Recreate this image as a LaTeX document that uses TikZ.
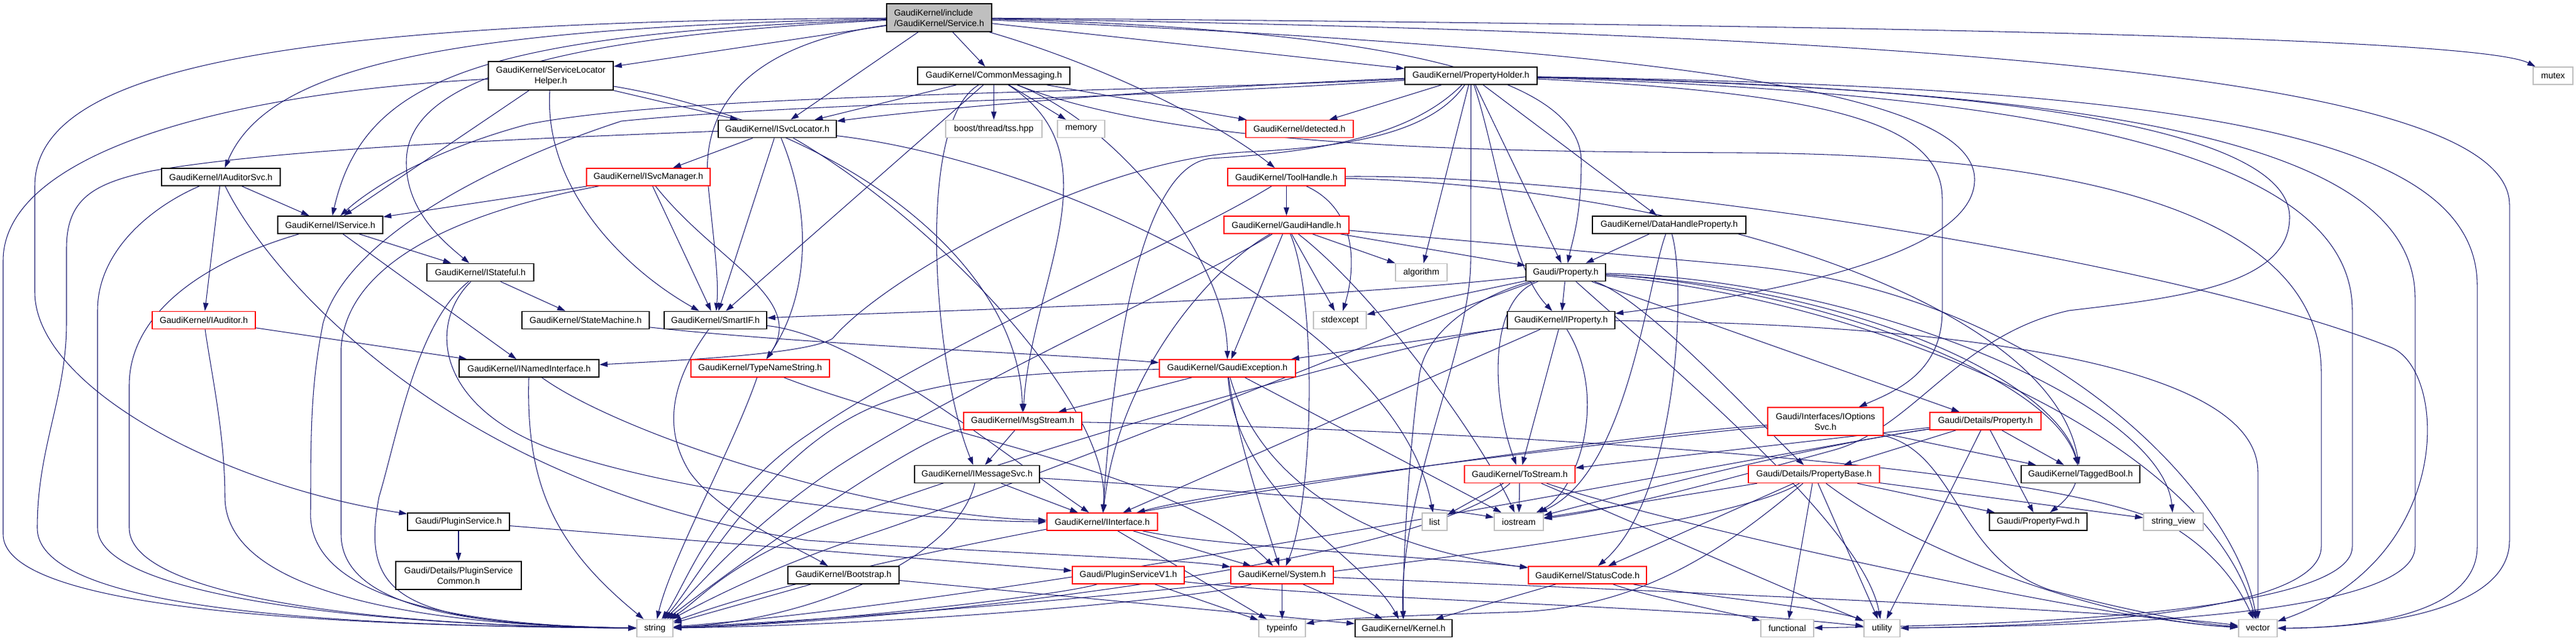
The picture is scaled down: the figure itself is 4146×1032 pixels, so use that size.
\documentclass[tikz,border=0pt]{standalone}
\usepackage{fontspec}
\newfontfamily\nf{Liberation Sans}
\usetikzlibrary{arrows.meta}
\definecolor{edgec}{HTML}{191970}
\definecolor{rootfill}{HTML}{BFBFBF}
\definecolor{grayb}{HTML}{BFBFBF}
\definecolor{redb}{HTML}{FF0000}
\pgfdeclarelayer{bg}
\pgfsetlayers{bg,main}
\begin{document}
\begin{tikzpicture}[x=1pt,y=-1pt,
  nbox/.style={draw, fill=white, line width=1.6pt, inner sep=0pt, minimum height=28pt, font=\nf\fontsize{14.1}{17}\selectfont, align=center, text=black},
  bbox/.style={nbox, draw=black},
  rbox/.style={nbox, draw=redb},
  gbox/.style={nbox, draw=grayb},
  edg/.style={draw=edgec, line width=1.05pt, -{Triangle[length=13pt,width=8.5pt]}}]
\useasboundingbox (0,0) rectangle (4146,1032);
% ---------------- nodes ----------------
\node[bbox, fill=rootfill, align=left, minimum width=169pt, minimum height=45pt] (root) at (1511.5,28.5) {GaudiKernel/include\\/GaudiKernel/Service.h};
\node[bbox, minimum width=201pt, minimum height=46pt] (slh) at (886.5,122) {GaudiKernel/ServiceLocator\\Helper.h};
\node[bbox, minimum width=245pt] (cm) at (1599.5,122) {GaudiKernel/CommonMessaging.h};
\node[bbox, minimum width=213pt] (ph) at (2367.5,122) {GaudiKernel/PropertyHolder.h};
\node[gbox, minimum width=64pt] (mutex) at (4109,122) {mutex};
\node[bbox, minimum width=190pt] (isl) at (1251,207.5) {GaudiKernel/ISvcLocator.h};
\node[gbox, minimum width=155pt] (boost) at (1599.5,207.5) {boost/thread/tss.hpp};
\node[gbox, minimum width=76pt] (memory) at (1740,207.5) {memory};
\node[rbox, minimum width=173pt] (detected) at (2091.5,207.5) {GaudiKernel/detected.h};
\node[bbox, minimum width=191pt] (ias) at (355.5,285) {GaudiKernel/IAuditorSvc.h};
\node[rbox, minimum width=199pt] (ism) at (1043.5,285) {GaudiKernel/ISvcManager.h};
\node[rbox, minimum width=189pt] (th) at (2070.5,285) {GaudiKernel/ToolHandle.h};
\node[bbox, minimum width=169pt] (isv) at (531.5,362) {GaudiKernel/IService.h};
\node[rbox, minimum width=201pt] (gh) at (2070.5,362) {GaudiKernel/GaudiHandle.h};
\node[bbox, minimum width=247pt] (dhp) at (2686.5,362) {GaudiKernel/DataHandleProperty.h};
\node[bbox, minimum width=172pt] (ist) at (773,438.5) {GaudiKernel/IStateful.h};
\node[gbox, minimum width=83pt] (alg) at (2287.5,438.5) {algorithm};
\node[bbox, minimum width=128pt] (gp) at (2520,438.5) {Gaudi/Property.h};
\node[rbox, minimum width=166pt] (iaud) at (328,515.5) {GaudiKernel/IAuditor.h};
\node[bbox, minimum width=205pt] (sm) at (942.5,515.5) {GaudiKernel/StateMachine.h};
\node[bbox, minimum width=165pt] (sif) at (1151.5,515.5) {GaudiKernel/SmartIF.h};
\node[gbox, minimum width=85pt] (stdex) at (2156.5,515.5) {stdexcept};
\node[bbox, minimum width=173pt] (ip) at (2512.5,515.5) {GaudiKernel/IProperty.h};
\node[bbox, minimum width=225pt] (ini) at (851.5,593) {GaudiKernel/INamedInterface.h};
\node[rbox, minimum width=223pt] (tns) at (1223.5,593) {GaudiKernel/TypeNameString.h};
\node[rbox, minimum width=219pt] (ge) at (1975.5,593) {GaudiKernel/GaudiException.h};
\node[rbox, minimum width=186pt, minimum height=45pt] (ios) at (2938,678.5) {Gaudi/Interfaces/IOptions\\Svc.h};
\node[rbox, minimum width=179pt] (dp) at (3195.5,678) {Gaudi/Details/Property.h};
\node[rbox, minimum width=190pt] (ms) at (1646,678) {GaudiKernel/MsgStream.h};
\node[bbox, minimum width=201pt] (imsg) at (1572.5,763.5) {GaudiKernel/IMessageSvc.h};
\node[rbox, minimum width=178pt] (ts) at (2446,763.5) {GaudiKernel/ToStream.h};
\node[rbox, minimum width=211pt] (pb) at (2919.5,763.5) {Gaudi/Details/PropertyBase.h};
\node[bbox, minimum width=191pt] (tb) at (3348.5,763.5) {GaudiKernel/TaggedBool.h};
\node[bbox, minimum width=164pt] (ps) at (738,840) {Gaudi/PluginService.h};
\node[rbox, minimum width=178pt] (ii) at (1774,840) {GaudiKernel/IInterface.h};
\node[gbox, minimum width=40pt] (list) at (2309,840) {list};
\node[gbox, minimum width=79pt] (iost) at (2444.5,840) {iostream};
\node[bbox, minimum width=157pt] (pfwd) at (3280.5,840) {Gaudi/PropertyFwd.h};
\node[gbox, minimum width=96pt] (sv) at (3498,840) {string\_view};
\node[bbox, minimum width=202pt, minimum height=45pt] (psc) at (738,926.5) {Gaudi/Details/PluginService\\Common.h};
\node[bbox, minimum width=179pt] (bs) at (1357.5,926) {GaudiKernel/Bootstrap.h};
\node[rbox, minimum width=180pt] (psv1) at (1816,926) {Gaudi/PluginServiceV1.h};
\node[rbox, minimum width=165pt] (sys) at (2063.5,926) {GaudiKernel/System.h};
\node[rbox, minimum width=190pt] (sc) at (2555,926) {GaudiKernel/StatusCode.h};
\node[gbox, minimum width=58pt] (str) at (1054,1011.5) {string};
\node[gbox, minimum width=75pt] (ti) at (2063.5,1011.5) {typeinfo};
\node[bbox, minimum width=156pt] (ker) at (2259,1011.5) {GaudiKernel/Kernel.h};
\node[gbox, minimum width=85pt] (fun) at (2876.5,1011.5) {functional};
\node[gbox, minimum width=58pt] (util) at (3029,1011.5) {utility};
\node[gbox, minimum width=62pt] (vec) at (3634,1011.5) {vector};
% ---------------- edges ----------------
\begin{pgfonlayer}{bg}
\fill[white] (0,0) rectangle (4146,1032);
% Service.h
\draw[edg] (root) -- (slh);
\draw[edg] (root) -- (cm);
\draw[edg] (root) -- (ph);
\draw[edg] (root) -- (isl);
\draw[edg] (root) .. controls (1760,100) and (1950,190) .. (th);
\draw[edg] (root) .. controls (700,45) and (430,110) .. (ias);
\draw[edg] (root) .. controls (760,55) and (585,130) .. (isv);
\draw[edg] (root) .. controls (850,60) and (655,140) .. (654,260) .. controls (653,340) and (715,390) .. (ist);
\draw[edg] (root) .. controls (1220,70) and (1125,160) .. (1140,300) .. controls (1150,400) and (1157,450) .. (sif);
\draw[edg] (root) .. controls (450,35) and (56,110) .. (56,300) -- (56,470) .. controls (56,620) and (350,780) .. (ps);
\draw[edg] (root) .. controls (2350,50) and (2545,150) .. (2545,260) .. controls (2545,350) and (2530,390) .. (gp);
\draw[edg] (root) .. controls (3000,40) and (3990,60) .. (mutex);
\draw[edg] (root) .. controls (3100,55) and (4039,120) .. (4039,330) -- (4039,870) .. controls (4039,990) and (3800,1011) .. (vec);
\draw[edg] (root) .. controls (2700,80) and (3180,150) .. (3178,290) .. controls (3176,420) and (2800,480) .. (ip);
% ServiceLocatorHelper.h
\draw[edg] (slh) -- (isl);
\draw[edg] (slh) -- (isv);
\draw[edg] (slh) .. controls (875,300) and (1000,430) .. (sif);
\draw[edg] (slh) .. controls (350,150) and (5,250) .. (5,420) -- (5,860) .. controls (5,990) and (600,1008) .. (str);
\draw[edg] (slh) .. controls (1350,200) and (1640,420) .. (ms);
% CommonMessaging.h
\draw[edg] (cm) -- (boost);
\draw[edg] (cm) -- (memory);
\draw[edg] (cm) -- (detected);
\draw[edg] (cm) -- (isl);
\draw[edg] (cm) .. controls (1800,200) and (1975,420) .. (ge);
\draw[edg] (cm) .. controls (1470,200) and (1505,600) .. (imsg);
\draw[edg] (cm) .. controls (1800,250) and (1660,450) .. (ms);
\draw[edg] (cm) -- (sif);
\draw[edg] (cm) .. controls (1900,240) and (2400,244) .. (2800,246) .. controls (3500,250) and (3736,400) .. (3736,600) -- (3736,880) .. controls (3736,990) and (3300,1008) .. (util);
% PropertyHolder.h
\draw[edg] (ph) -- (detected);
\draw[edg] (ph) -- (alg);
\draw[edg] (ph) -- (2367,420) .. controls (2367,560) and (2250,800) .. (ker);
\draw[edg] (ph) -- (gp);
\draw[edg] (ph) .. controls (2410,250) and (2430,430) .. (ip);
\draw[edg] (ph) -- (dhp);
\draw[edg] (ph) .. controls (1900,140) and (1500,175) .. (isl);
\draw[edg] (ph) .. controls (1800,150) and (1100,150) .. (850,200) .. controls (700,240) and (600,300) .. (isv);
\draw[edg] (ph) .. controls (2300,220) and (2150,238) .. (2000,245) .. controls (1750,260) and (1420,450) .. (1340,545) .. controls (1300,570) and (1100,580) .. (ini);
\draw[edg] (ph) .. controls (1800,160) and (1300,165) .. (1000,195) .. controls (800,260) and (560,380) .. (520,520) .. controls (500,620) and (500,700) .. (500,820) .. controls (490,980) and (800,1008) .. (str);
\draw[edg] (ph) .. controls (2270,220) and (2120,245) .. (1950,255) .. controls (1830,265) and (1790,600) .. (ii);
\draw[edg] (ph) .. controls (2950,150) and (3126,200) .. (3126,320) -- (3126,500) .. controls (3126,600) and (3050,630) .. (ios);
\draw[edg] (ph) .. controls (3300,140) and (3685,220) .. (3685,350) .. controls (3685,460) and (3500,480) .. (3330,500) .. controls (3150,540) and (3080,690) .. (2950,725) .. controls (2750,780) and (2600,820) .. (iost);
\draw[edg] (ph) .. controls (3300,150) and (3786,250) .. (3786,500) -- (3786,880) .. controls (3786,1000) and (3100,1008) .. (fun);
\draw[edg] (ph) .. controls (3400,145) and (3887,230) .. (3887,480) -- (3887,880) .. controls (3887,1000) and (3300,1008) .. (util);
\draw[edg] (ph) .. controls (3500,140) and (3987,210) .. (3987,460) -- (3987,880) .. controls (3987,990) and (3800,1011) .. (vec);
% ToolHandle.h
\draw[edg] (th) -- (gh);
\draw[edg] (th) .. controls (2190,340) and (2180,440) .. (stdex);
\draw[edg] (th) .. controls (1900,390) and (1500,560) .. (1300,700) .. controls (1150,800) and (1100,950) .. (str);
\draw[edg] (th) .. controls (2700,300) and (3300,480) .. (tb);
\draw[edg] (th) .. controls (2600,280) and (3500,420) .. (3850,560) .. controls (3940,600) and (3950,900) .. (vec);
% GaudiHandle.h
\draw[edg] (gh) -- (alg);
\draw[edg] (gh) -- (stdex);
\draw[edg] (gh) -- (gp);
\draw[edg] (gh) -- (ge);
\draw[edg] (gh) .. controls (1950,430) and (1800,600) .. (ii);
\draw[edg] (gh) .. controls (2120,480) and (2115,800) .. (sys);
\draw[edg] (gh) .. controls (1950,440) and (1550,620) .. (1350,750) .. controls (1200,850) and (1120,950) .. (str);
\draw[edg] (gh) .. controls (2210,470) and (2380,700) .. (iost);
\draw[edg] (gh) -- (2800,427) .. controls (3300,470) and (3600,800) .. (vec);
% DataHandleProperty.h
\draw[edg] (dhp) -- (gp);
\draw[edg] (dhp) .. controls (2650,460) and (2620,760) .. (iost);
\draw[edg] (dhp) .. controls (2715,460) and (2700,800) .. (sc);
% Gaudi/Property.h
\draw[edg] (gp) -- (stdex);
\draw[edg] (gp) -- (ip);
\draw[edg] (gp) .. controls (2100,485) and (1500,500) .. (sif);
\draw[edg] (gp) .. controls (2380,480) and (1700,760) .. (1400,860) .. controls (1250,910) and (1150,960) .. (str);
\draw[edg] (gp) .. controls (2400,470) and (2300,520) .. (2285,600) .. controls (2270,700) and (2257,900) .. (ker);
\draw[edg] (gp) .. controls (2395,480) and (2400,640) .. (ts);
\draw[edg] (gp) .. controls (2650,480) and (2850,700) .. (pb);
\draw[edg] (gp) -- (dp);
\draw[edg] (gp) .. controls (3100,470) and (3460,700) .. (pfwd);
\draw[edg] (gp) .. controls (2900,460) and (3300,600) .. (tb);
\draw[edg] (gp) .. controls (3000,450) and (3480,650) .. (sv);
\draw[edg] (gp) .. controls (2700,600) and (3000,850) .. (util);
\draw[edg] (gp) .. controls (3000,480) and (3550,700) .. (vec);
% IProperty.h
\draw[edg] (ip) -- (ge);
\draw[edg] (ip) -- (ii);
\draw[edg] (ip) -- (ts);
\draw[edg] (ip) .. controls (2590,640) and (2540,790) .. (iost);
\draw[edg] (ip) .. controls (2200,560) and (1400,800) .. (1250,880) .. controls (1150,930) and (1120,970) .. (str);
\draw[edg] (ip) .. controls (3000,520) and (3634,560) .. (3634,760) -- (vec);
% ISvcLocator.h
\draw[edg] (isl) -- (ism);
\draw[edg] (isl) -- (sif);
\draw[edg] (isl) .. controls (1310,350) and (1300,480) .. (tns);
\draw[edg] (isl) .. controls (800,225) and (450,240) .. (245,275) .. controls (150,295) and (107,320) .. (107,400) -- (107,520) .. controls (107,640) and (60,720) .. (60,850) .. controls (60,990) and (600,1008) .. (str);
\draw[edg] (isl) .. controls (1500,350) and (1790,650) .. (ii);
\draw[edg] (isl) .. controls (1700,260) and (2250,520) .. (list);
% ISvcManager.h
\draw[edg] (ism) -- (isv);
\draw[edg] (ism) -- (sif);
\draw[edg] (ism) .. controls (1150,420) and (1300,480) .. (tns);
\draw[edg] (ism) .. controls (800,330) and (560,400) .. (549,560) -- (549,860) .. controls (549,990) and (800,1008) .. (str);
% IAuditorSvc.h
\draw[edg] (ias) -- (isv);
\draw[edg] (ias) -- (iaud);
\draw[edg] (ias) .. controls (250,330) and (157,400) .. (157,500) -- (157,850) .. controls (157,960) and (600,1008) .. (str);
\draw[edg] (ias) .. controls (420,420) and (700,780) .. (1300,870) .. controls (1600,890) and (1900,900) .. (sys);
% IService.h
\draw[edg] (isv) -- (ist);
\draw[edg] (isv) -- (ini);
\draw[edg] (isv) .. controls (300,430) and (208,520) .. (208,620) -- (208,850) .. controls (208,960) and (600,1008) .. (str);
% IStateful.h
\draw[edg] (ist) -- (sm);
\draw[edg] (ist) .. controls (690,520) and (700,650) .. (880,720) .. controls (1100,800) and (1500,840) .. (ii);
\draw[edg] (ist) .. controls (670,520) and (640,700) .. (610,800) .. controls (580,960) and (640,1005) .. (str);
% IAuditor.h
\draw[edg] (iaud) -- (ini);
\draw[edg] (iaud) .. controls (340,600) and (362,700) .. (362,800) .. controls (362,960) and (700,1008) .. (str);
% StateMachine.h
\draw[edg] (sm) .. controls (1300,555) and (1700,570) .. (ge);
% SmartIF.h
\draw[edg] (sif) .. controls (1380,540) and (1600,720) .. (ii);
\draw[edg] (sif) .. controls (1090,600) and (1060,680) .. (1110,760) .. controls (1160,830) and (1280,880) .. (bs);
% INamedInterface.h
\draw[edg] (ini) .. controls (1000,700) and (1400,830) .. (ii);
\draw[edg] (ini) .. controls (846,780) and (893,880) .. (str);
% TypeNameString.h
\draw[edg] (tns) .. controls (1180,720) and (1080,900) .. (str);
\draw[edg] (tns) .. controls (1500,700) and (1900,760) .. (sys);
% GaudiException.h
\draw[edg] (ge) -- (ms);
\draw[edg] (ge) .. controls (1500,600) and (1400,640) .. (1300,720) .. controls (1180,820) and (1110,950) .. (str);
\draw[edg] (ge) .. controls (1990,800) and (2200,900) .. (ker);
\draw[edg] (ge) -- (iost);
\draw[edg] (ge) .. controls (2050,850) and (2350,900) .. (sc);
\draw[edg] (ge) .. controls (1990,700) and (2030,820) .. (sys);
% MsgStream.h
\draw[edg] (ms) -- (imsg);
\draw[edg] (ms) .. controls (1480,700) and (1200,900) .. (str);
\draw[edg] (ms) .. controls (2300,690) and (3300,740) .. (3500,850) .. controls (3580,900) and (3610,960) .. (vec);
% IMessageSvc.h
\draw[edg] (imsg) -- (ii);
\draw[edg] (imsg) .. controls (1540,900) and (1300,1000) .. (str);
\draw[edg] (imsg) .. controls (2000,790) and (2300,815) .. (iost);
% ToStream.h
\draw[edg] (ts) -- (list);
\draw[edg] (ts) -- (iost);
\draw[edg] (ts) .. controls (2300,900) and (1500,1000) .. (str);
\draw[edg] (ts) .. controls (2700,850) and (3400,1000) .. (vec);
\draw[edg] (ts) .. controls (2650,850) and (2900,960) .. (util);
% IOptionsSvc.h
\draw[edg] (ios) -- (tb);
\draw[edg] (ios) .. controls (2600,700) and (1500,850) .. (str);
\draw[edg] (ios) .. controls (2700,700) and (2000,780) .. (ii);
\draw[edg] (ios) .. controls (3150,730) and (3150,900) .. (3300,950) .. controls (3450,990) and (3550,1005) .. (vec);
% Gaudi/Details/Property.h
\draw[edg] (dp) -- (pb);
\draw[edg] (dp) -- (tb);
\draw[edg] (dp) -- (pfwd);
\draw[edg] (dp) -- (util);
\draw[edg] (dp) -- (ts);
\draw[edg] (dp) .. controls (2900,720) and (1700,960) .. (str);
\draw[edg] (dp) .. controls (2900,720) and (2600,800) .. (iost);
% Gaudi/Details/PropertyBase.h
\draw[edg] (pb) -- (pfwd);
\draw[edg] (pb) -- (sv);
\draw[edg] (pb) -- (fun);
\draw[edg] (pb) -- (util);
\draw[edg] (pb) -- (sc);
\draw[edg] (pb) -- (iost);
\draw[edg] (pb) .. controls (2750,870) and (1700,980) .. (str);
\draw[edg] (pb) .. controls (2780,880) and (2650,975) .. (2450,985) .. controls (2300,990) and (2150,995) .. (ti);
\draw[edg] (pb) .. controls (3100,900) and (3400,1000) .. (vec);
% Gaudi/PluginService.h
\draw[edg] (ps) -- (psc);
\draw[edg] (ps) -- (psv1);
% Gaudi/PluginServiceV1.h
\draw[edg] (psv1) -- (ti);
\draw[edg] (psv1) .. controls (1700,960) and (1300,1005) .. (str);
\draw[edg] (psv1) .. controls (2150,965) and (2700,975) .. (util);
% IInterface.h
\draw[edg] (ii) -- (sys);
\draw[edg] (ii) .. controls (1950,880) and (2350,900) .. (sc);
\draw[edg] (ii) -- (ti);
% System.h
\draw[edg] (sys) -- (ti);
\draw[edg] (sys) -- (ker);
\draw[edg] (sys) .. controls (1950,960) and (1500,1005) .. (str);
\draw[edg] (sys) .. controls (2500,945) and (3400,980) .. (vec);
% StatusCode.h
\draw[edg] (sc) -- (ker);
\draw[edg] (sc) .. controls (2650,960) and (2800,990) .. (fun);
\draw[edg] (sc) .. controls (2700,955) and (2950,980) .. (util);
% Bootstrap.h
\draw[edg] (bs) -- (str);
\draw[edg] (bs) -- (ker);
\end{pgfonlayer}
\end{tikzpicture}
\end{document}
